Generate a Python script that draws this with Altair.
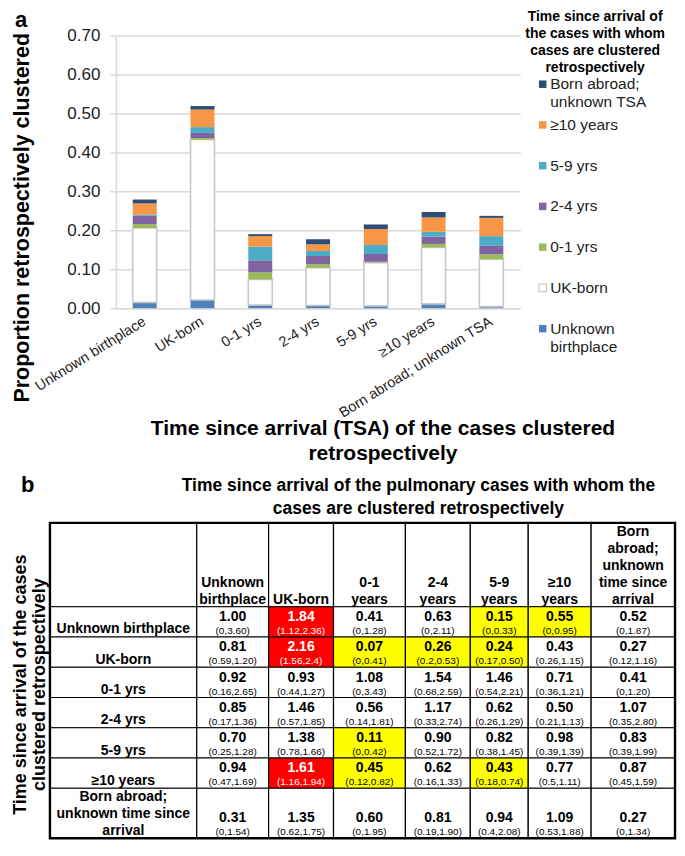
import altair as alt
import pandas as pd
import numpy as np

FONT = "Liberation Sans"

# ---------------- Panel a data ----------------
categories = ["Unknown birthplace", "UK-born", "0-1 yrs", "2-4 yrs", "5-9 yrs",
              "\u226510 years", "Born abroad; unknown TSA"]
# stacked series, bottom -> top
series = ["Unknown birthplace", "UK-born", "0-1 yrs", "2-4 yrs", "5-9 yrs",
          "\u226510 years", "Born abroad; unknown TSA"]
legend_labels = ["Unknown\nbirthplace", "UK-born", "0-1 yrs", "2-4 yrs", "5-9 yrs",
                 "\u226510 years", "Born abroad;\nunknown TSA"]
unknown_birthplace = [0.015, 0.021, 0.008, 0.007, 0.006, 0.011, 0.004]
uk_born = [0.191, 0.412, 0.066, 0.097, 0.111, 0.145, 0.122]
yrs_0_1 = [0.010, 0.004, 0.018, 0.009, 0.002, 0.009, 0.012]
yrs_2_4 = [0.021, 0.013, 0.031, 0.021, 0.020, 0.019, 0.022]
yrs_5_9 = [0.003, 0.015, 0.035, 0.013, 0.023, 0.012, 0.025]
yrs_10_plus = [0.029, 0.045, 0.027, 0.017, 0.041, 0.037, 0.047]
born_abroad_unknown = [0.010, 0.009, 0.005, 0.013, 0.012, 0.014, 0.005]
y_ticks = [0.0, 0.1, 0.2, 0.3, 0.4, 0.5, 0.6, 0.7]

fills = ["#4f81bd", "#ffffff", "#9bbb59", "#8064a2", "#4bacc6", "#f79646", "#2c4d75"]
strokes = ["transparent", "#c8c8c8", "transparent", "transparent", "transparent",
           "transparent", "transparent"]

legend_title = "Time since arrival of\nthe cases with whom\ncases are clustered\nretrospectively"
x_title = ["Time since arrival (TSA) of the cases clustered", "retrospectively"]
y_title = "Proportion retrospectively clustered"

# ---------------- Panel b data ----------------
table_title = "Time since arrival of the pulmonary cases with whom the\ncases are clustered retrospectively"
table_ytitle = "Time since arrival  of the cases\nclustered retrospectively"
col_labels = ["Unknown\nbirthplace", "UK-born", "0-1\nyears", "2-4\nyears", "5-9\nyears",
              "\u226510\nyears", "Born\nabroad;\nunknown\ntime since\narrival"]
row_labels = ["Unknown birthplace", "UK-born", "0-1 yrs", "2-4 yrs", "5-9 yrs", "\u226510 years",
              "Born abroad;\nunknown time since\narrival"]
ratios = [
    ["1.00", "1.84", "0.41", "0.63", "0.15", "0.55", "0.52"],
    ["0.81", "2.16", "0.07", "0.26", "0.24", "0.43", "0.27"],
    ["0.92", "0.93", "1.08", "1.54", "1.46", "0.71", "0.41"],
    ["0.85", "1.46", "0.56", "1.17", "0.62", "0.50", "1.07"],
    ["0.70", "1.38", "0.11", "0.90", "0.82", "0.98", "0.83"],
    ["0.94", "1.61", "0.45", "0.62", "0.43", "0.77", "0.87"],
    ["0.31", "1.35", "0.60", "0.81", "0.94", "1.09", "0.27"],
]
intervals = [
    ["(0,3.60)", "(1.12,2.36)", "(0,1.28)", "(0,2.11)", "(0,0.33)", "(0,0.95)", "(0,1.87)"],
    ["(0.59,1.20)", "(1.56,2.4)", "(0,0.41)", "(0.2,0.53)", "(0.17,0.50)", "(0.26,1.15)", "(0.12,1.16)"],
    ["(0.16,2.65)", "(0.44,1.27)", "(0,3.43)", "(0.68,2.59)", "(0.54,2.21)", "(0.36,1.21)", "(0,1.20)"],
    ["(0.17,1.36)", "(0.57,1.85)", "(0.14,1.81)", "(0.33,2.74)", "(0.26,1.29)", "(0.21,1.13)", "(0.35,2.80)"],
    ["(0.25,1.28)", "(0.78,1.66)", "(0,0.42)", "(0.52,1.72)", "(0.38,1.45)", "(0.39,1.39)", "(0.39,1.99)"],
    ["(0.47,1.69)", "(1.16,1.94)", "(0.12,0.82)", "(0.16,1.33)", "(0.18,0.74)", "(0.5,1.11)", "(0.45,1.59)"],
    ["(0,1.54)", "(0.62,1.75)", "(0,1.95)", "(0.19,1.90)", "(0.4,2.08)", "(0.53,1.88)", "(0,1.34)"],
]

# ---------------- Layout (sizes only) ----------------
W_A, H_A = 405, 273
TABLE_LEFT = -66           # table left edge relative to the shared plot origin
col_w = [147, 72, 65, 72, 65, 58, 63, 84]
row_h = [84] + [30.3] * 6 + [50]
LH_TABLE = 17

# ---------------- Panel a ----------------
series_values = [unknown_birthplace, uk_born, yrs_0_1, yrs_2_4, yrs_5_9, yrs_10_plus, born_abroad_unknown]
recs = []
for i, (s, vals) in enumerate(zip(series, series_values)):
    for c, v in zip(categories, vals):
        recs.append(dict(cat=c, series=s, idx=i, value=v))
bar_df = pd.DataFrame(recs)

color_scale = alt.Scale(domain=series, range=fills)
stroke_scale = alt.Scale(domain=series, range=strokes)

bars = alt.Chart(bar_df).mark_bar(strokeWidth=1.6).encode(
    x=alt.X("cat:N", sort=categories,
            scale=alt.Scale(paddingInner=0.585, paddingOuter=0.2925),
            axis=alt.Axis(labelAngle=-32, labelAlign="right", labelBaseline="middle",
                          labelFontSize=14.5, labelColor="#222", labelPadding=12, labelLimit=300,
                          ticks=False, domainColor="#d9d9d9", domainWidth=1.5,
                          title=x_title, titleFontSize=21, titleFontWeight="bold",
                          titleColor="black", titleX=267, titleY=110, titleAlign="center",
                          titleBaseline="top", titleLineHeight=25)),
    y=alt.Y("value:Q", stack="zero", scale=alt.Scale(domain=[0, 0.7], nice=False),
            axis=alt.Axis(values=y_ticks, format=".2f", labelFontSize=17, labelColor="#222",
                          labelPadding=10, tickSize=6, tickColor="#d9d9d9", tickWidth=1.5,
                          domainColor="#d9d9d9", domainWidth=1.5, gridColor="#d9d9d9",
                          gridWidth=1.5, title=y_title, titleFontSize=21.5,
                          titleFontWeight="bold", titleColor="black", titleX=-93, titleY=182,
                          titleAlign="center", titleBaseline="middle", titleAngle=270)),
    color=alt.Color("series:N", scale=color_scale, legend=None),
    stroke=alt.Stroke("series:N", scale=stroke_scale, legend=None),
    order=alt.Order("idx:Q", sort="ascending"),
)

leg_df = pd.DataFrame({"series": series[::-1], "label": legend_labels[::-1],
                       "pos": list(range(len(series)))})
leg_step, leg_first = 40.8, 48.7
d0 = -leg_first / leg_step
d1 = d0 + H_A / leg_step
leg_y = alt.Y("pos:Q", scale=alt.Scale(domain=[d0, d1], reverse=True, nice=False, zero=False),
              axis=None)
leg_sym = alt.Chart(leg_df).mark_square(size=56, opacity=1, strokeWidth=1.2).encode(
    x=alt.value(427.5), y=leg_y,
    color=alt.Color("series:N", scale=color_scale, legend=None),
    stroke=alt.Stroke("series:N", scale=stroke_scale, legend=None),
)
leg_txt = alt.Chart(leg_df).mark_text(align="left", baseline="top", dy=-7, fontSize=15.5,
                                      lineHeight=18, lineBreak="\n", color="#222").encode(
    x=alt.value(435), y=leg_y, text="label:N")
legend = alt.layer(leg_sym, leg_txt)

leg_title = alt.Chart(pd.DataFrame({"t": [legend_title]})).mark_text(
    align="center", baseline="top", fontSize=14, fontWeight="bold", lineHeight=17.2,
    lineBreak="\n", color="black").encode(x=alt.value(480), y=alt.value(-26), text="t:N")
a_label = alt.Chart(pd.DataFrame({"t": ["a"]})).mark_text(
    align="left", baseline="alphabetic", fontSize=22, fontWeight="bold", color="black").encode(
    x=alt.value(-101), y=alt.value(-9), text="t:N")

panel_a = alt.layer(bars, legend, leg_title, a_label).resolve_scale(y="independent").properties(
    width=W_A, height=H_A)

# ---------------- Panel b ----------------
xe = TABLE_LEFT + np.concatenate([[0.0], np.cumsum(col_w)])
ye = np.concatenate([[0.0], np.cumsum(row_h)])
W_B, H_B = float(xe[-1]), float(ye[-1])


def parse_ci(s):
    lo, hi = s.strip("()").split(",")
    return float(lo), float(hi)


cells, vals = [], []
for r in range(len(row_h)):
    for c in range(len(col_w)):
        fill = "#ffffff"
        if r >= 1 and c >= 1:
            lo, hi = parse_ci(intervals[r - 1][c - 1])
            if lo > 1:
                fill = "#ff0000"
            elif hi < 1:
                fill = "#ffff00"
            vals.append(dict(xc=(xe[c] + xe[c + 1]) / 2, yb=ye[r + 1],
                             v=ratios[r - 1][c - 1], ci=intervals[r - 1][c - 1],
                             tc="#ffffff" if fill == "#ff0000" else "#000000"))
        cells.append(dict(x0=xe[c], x1=xe[c + 1], y0=ye[r], y1=ye[r + 1], fill=fill))
cells_df = pd.DataFrame(cells)
vals_df = pd.DataFrame(vals)

hdr_df = pd.DataFrame([dict(xc=(xe[c + 1] + xe[c + 2]) / 2,
                            yb=ye[1] - (lab.count("\n")) * LH_TABLE, t=lab)
                       for c, lab in enumerate(col_labels)])
rlab_df = pd.DataFrame([dict(xc=(xe[0] + xe[1]) / 2,
                             yb=ye[r + 2] - 0.5 - (lab.count("\n")) * LH_TABLE, t=lab)
                        for r, lab in enumerate(row_labels)])
outer_df = pd.DataFrame([dict(x0=xe[0], x1=xe[-1], y0=0.0, y1=H_B)])

xs = alt.Scale(domain=[0, W_B], nice=False, zero=False)
ys = alt.Scale(domain=[0, H_B], nice=False, zero=False, reverse=True)

t_cells = alt.Chart(cells_df).mark_rect(stroke="black", strokeWidth=1.2).encode(
    x=alt.X("x0:Q", scale=xs, axis=None), x2="x1",
    y=alt.Y("y0:Q", scale=ys, axis=None), y2="y1",
    fill=alt.Fill("fill:N", scale=None))
t_outer = alt.Chart(outer_df).mark_rect(fillOpacity=0, stroke="black", strokeWidth=2.4).encode(
    x=alt.X("x0:Q", scale=xs, axis=None), x2="x1",
    y=alt.Y("y0:Q", scale=ys, axis=None), y2="y1")
t_hdr = alt.Chart(hdr_df).mark_text(align="center", baseline="bottom", fontSize=14,
                                    fontWeight="bold", lineHeight=LH_TABLE, lineBreak="\n",
                                    color="black").encode(
    x=alt.X("xc:Q", scale=xs, axis=None), y=alt.Y("yb:Q", scale=ys, axis=None), text="t:N")
t_rlab = alt.Chart(rlab_df).mark_text(align="center", baseline="bottom", fontSize=14,
                                      fontWeight="bold", lineHeight=LH_TABLE, lineBreak="\n",
                                      color="black").encode(
    x=alt.X("xc:Q", scale=xs, axis=None), y=alt.Y("yb:Q", scale=ys, axis=None), text="t:N")
t_val = alt.Chart(vals_df).mark_text(align="center", baseline="middle", dy=-20, fontSize=14,
                                     fontWeight="bold").encode(
    x=alt.X("xc:Q", scale=xs, axis=None), y=alt.Y("yb:Q", scale=ys, axis=None), text="v:N",
    color=alt.Color("tc:N", scale=None))
t_ci = alt.Chart(vals_df).mark_text(align="center", baseline="middle", dy=-5.8,
                                    fontSize=10).encode(
    x=alt.X("xc:Q", scale=xs, axis=None), y=alt.Y("yb:Q", scale=ys, axis=None), text="ci:N",
    color=alt.Color("tc:N", scale=None))

t_title = alt.Chart(pd.DataFrame({"t": [table_title]})).mark_text(
    align="center", baseline="middle", fontSize=17.5, fontWeight="bold", lineHeight=23,
    lineBreak="\n", color="black").encode(x=alt.value(303), y=alt.value(-37), text="t:N")
t_ytitle = alt.Chart(pd.DataFrame({"t": [table_ytitle]})).mark_text(
    align="center", baseline="middle", fontSize=18, fontWeight="bold", lineHeight=19,
    lineBreak="\n", angle=270, color="black").encode(x=alt.value(-95), y=alt.value(162),
                                                     text="t:N")
b_label = alt.Chart(pd.DataFrame({"t": ["b"]})).mark_text(
    align="left", baseline="alphabetic", fontSize=22, fontWeight="bold", color="black").encode(
    x=alt.value(-95), y=alt.value(-31), text="t:N")

panel_b = alt.layer(t_cells, t_outer, t_hdr, t_rlab, t_val, t_ci, t_title, t_ytitle,
                    b_label).properties(width=W_B, height=H_B)

chart = alt.vconcat(panel_a, panel_b, spacing=10).properties(
    padding={"left": 3, "top": 0, "right": 0, "bottom": 0}
).configure(font=FONT).configure_view(stroke=None)

chart.save("out.html", embed_options={"renderer": "svg", "actions": False})
